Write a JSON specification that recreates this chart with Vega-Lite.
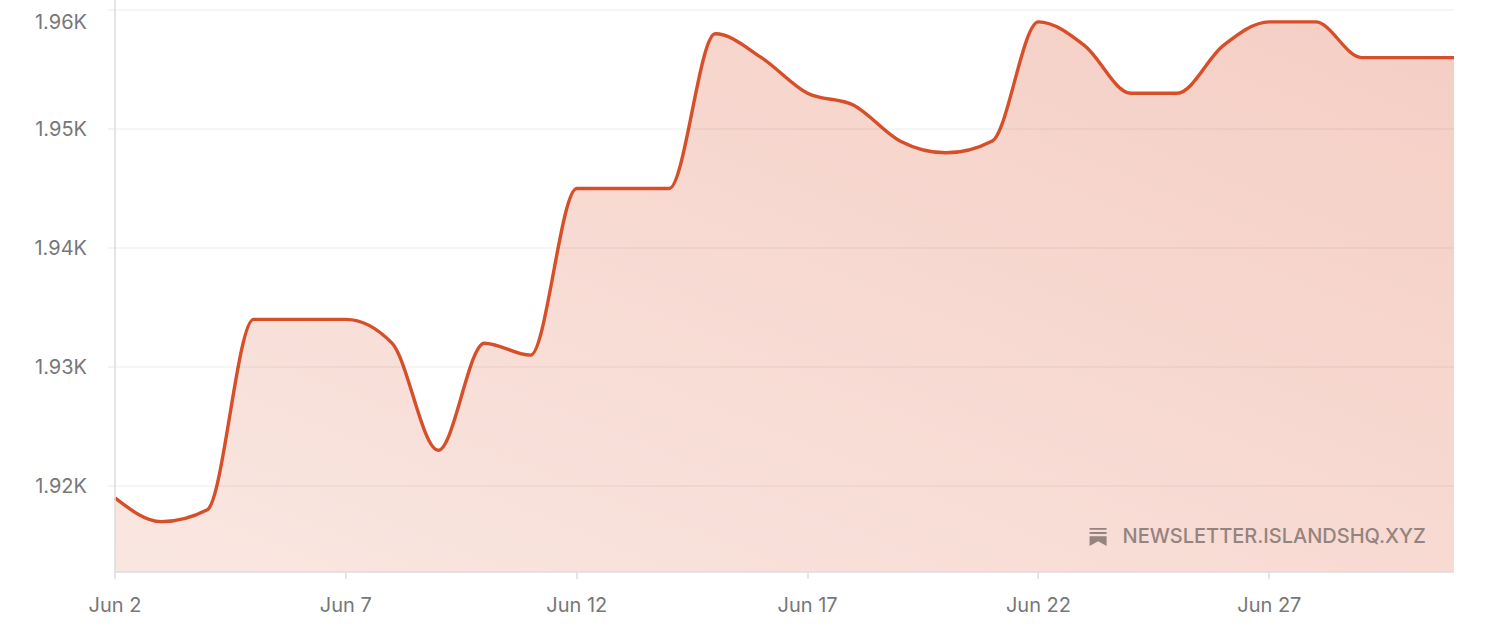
{
"$schema":"https://vega.github.io/schema/vega-lite/v6.json",
"width":1339,"height":572,
"autosize":{"type":"none"},
"padding":{"left":115,"top":0,"right":34,"bottom":68},
"background":"white",
"view":{"stroke":null},
"config":{"font":"Inter"},
"datasets":{
"series":[
{"date":"2023-06-02T00:00:00Z","value":1919},{"date":"2023-06-03T00:00:00Z","value":1917},{"date":"2023-06-04T00:00:00Z","value":1918},{"date":"2023-06-05T00:00:00Z","value":1934},{"date":"2023-06-06T00:00:00Z","value":1934},{"date":"2023-06-07T00:00:00Z","value":1934},{"date":"2023-06-08T00:00:00Z","value":1932},{"date":"2023-06-09T00:00:00Z","value":1923},{"date":"2023-06-10T00:00:00Z","value":1932},{"date":"2023-06-11T00:00:00Z","value":1931},{"date":"2023-06-12T00:00:00Z","value":1945},{"date":"2023-06-13T00:00:00Z","value":1945},{"date":"2023-06-14T00:00:00Z","value":1945},{"date":"2023-06-15T00:00:00Z","value":1958},{"date":"2023-06-16T00:00:00Z","value":1956},{"date":"2023-06-17T00:00:00Z","value":1953},{"date":"2023-06-18T00:00:00Z","value":1952},{"date":"2023-06-19T00:00:00Z","value":1949},{"date":"2023-06-20T00:00:00Z","value":1948},{"date":"2023-06-21T00:00:00Z","value":1949},{"date":"2023-06-22T00:00:00Z","value":1959},{"date":"2023-06-23T00:00:00Z","value":1957},{"date":"2023-06-24T00:00:00Z","value":1953},{"date":"2023-06-25T00:00:00Z","value":1953},{"date":"2023-06-26T00:00:00Z","value":1957},{"date":"2023-06-27T00:00:00Z","value":1959},{"date":"2023-06-28T00:00:00Z","value":1959},{"date":"2023-06-29T00:00:00Z","value":1956},{"date":"2023-06-30T00:00:00Z","value":1956},{"date":"2023-07-01T00:00:00Z","value":1956}
],
"mark":[{"date":"2023-06-30T09:22:00Z","value":1915.71,"label":"NEWSLETTER.ISLANDSHQ.XYZ"}],
"icon":[{"date":"2023-06-23T07:00:00Z","value":1915.71}]
},
"encoding":{
"x":{"field":"date","type":"temporal","title":null,
"scale":{"type":"utc","domain":[{"year":2023,"month":6,"date":2,"utc":true},{"year":2023,"month":7,"date":1,"utc":true}]},
"axis":{"values":[{"year":2023,"month":6,"date":2,"utc":true},{"year":2023,"month":6,"date":7,"utc":true},{"year":2023,"month":6,"date":12,"utc":true},{"year":2023,"month":6,"date":17,"utc":true},{"year":2023,"month":6,"date":22,"utc":true},{"year":2023,"month":6,"date":27,"utc":true}],
"labelExpr":"utcFormat(datum.value,'%b %-d')","grid":false,"translate":0,"domainColor":"#dddddd","domainWidth":1.5,"tickColor":"#dddddd","tickWidth":1.5,"tickSize":7,"labelPadding":17,"labelFontSize":20,"labelColor":"#777777","labelFont":"Inter","labelOverlap":false,"labelFlush":false,"zindex":1}},
"y":{"field":"value","type":"quantitative","title":null,
"scale":{"domain":[1912.77,1960.84],"zero":false,"nice":false},
"axis":{"values":[1920,1930,1940,1950,1960],"labelExpr":"format(datum.value/1000,'.2f')+'K'","grid":true,"translate":0,"gridColor":"rgba(0,0,0,0.05)","gridWidth":1.5,"domainColor":"#dddddd","domainWidth":1.5,"tickColor":"#f0f0f0","tickWidth":1.5,"tickSize":7,"labelPadding":21,"labelFontSize":20,"labelColor":"#777777","labelFont":"Inter","labelOverlap":false,"labelFlush":false,"labelOffset":{"condition":{"test":"datum.value>=1960","value":13},"value":1},"zindex":1}}
},
"layer":[
{"data":{"name":"series"},"mark":{"type":"area","interpolate":"monotone","color":{"gradient":"linear","x1":0,"y1":1,"x2":1,"y2":0,"stops":[{"offset":0,"color":"rgba(217,79,43,0.14)"},{"offset":1,"color":"rgba(217,79,43,0.28)"}]}},"encoding":{"y":{"field":"value","type":"quantitative","stack":null},"y2":{"datum":1912.77}}},
{"data":{"name":"series"},"mark":{"type":"line","interpolate":"monotone","color":"#d64f29","strokeWidth":3.4}},
{"data":{"name":"mark"},"mark":{"type":"text","align":"right","baseline":"middle","fontSize":20,"fontWeight":500,"color":"#94837e","font":"Inter"},"encoding":{"text":{"field":"label"}}},
{"data":{"name":"icon"},"mark":{"type":"point","filled":true,"opacity":1,"size":1156,"color":"#94837e","shape":"M-.5,-.53H.5V-.43H-.5Z M-.5,-.3H.5V-.18H-.5Z M-.5,-.05H.5V.53L0,.25L-.5,.53Z"}}
]
}
